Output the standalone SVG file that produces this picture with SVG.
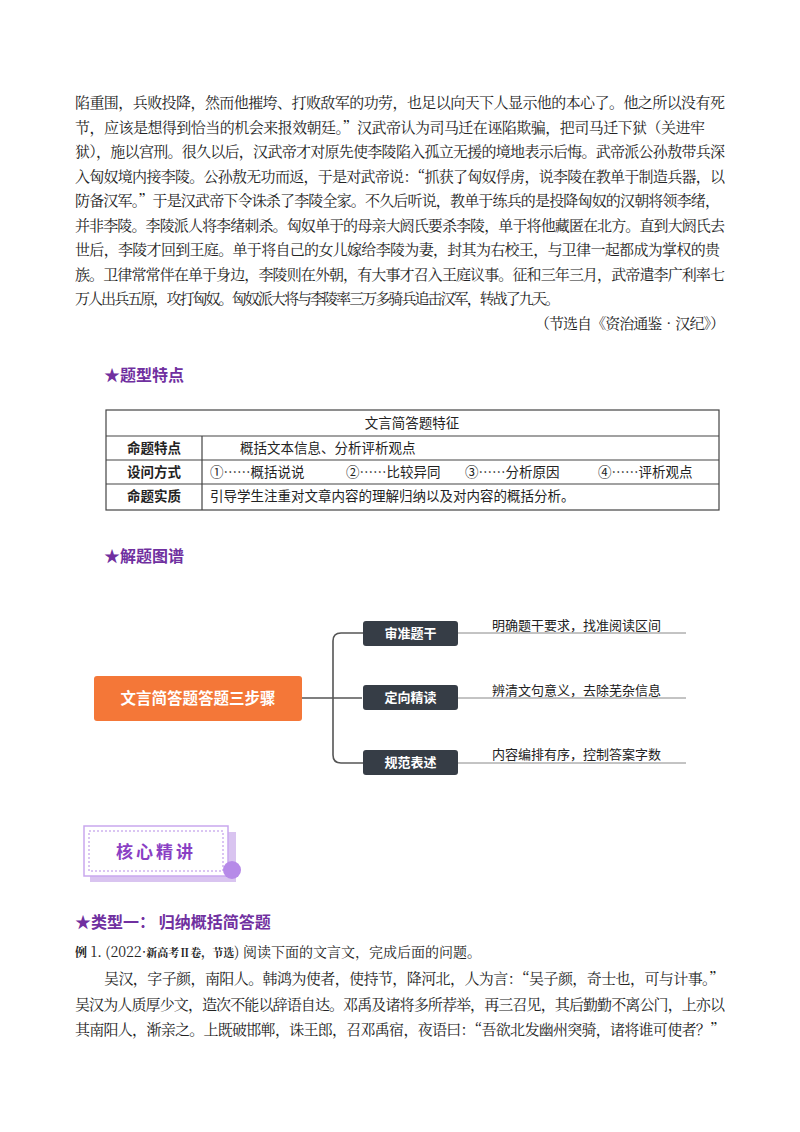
<svg xmlns="http://www.w3.org/2000/svg" width="800" height="1132" viewBox="0 0 800 1132">
<style>
.p{font-family:"Noto Serif CJK SC","Noto Sans CJK SC",serif;font-size:15px;fill:#222}
.s{font-family:"Noto Sans CJK SC",sans-serif;fill:#222}
.h{font-family:"Noto Sans CJK SC",sans-serif;font-size:16px;font-weight:bold;fill:#7030a0}
.cell{font-family:"Noto Sans CJK SC",sans-serif;font-size:13.5px;fill:#222}
.b{font-weight:bold}
.dk{fill:#363d46}
.wt{font-family:"Noto Sans CJK SC",sans-serif;font-size:13px;font-weight:bold;fill:#fff}
.ln{stroke:#555;stroke-width:1.6;fill:none}
.ul{stroke:#888;stroke-width:1;fill:none}
</style>
<rect width="800" height="1132" fill="#fff"/>
<g id="passage">
<text class="p" x="75" y="108" textLength="650" lengthAdjust="spacing">陷重围，兵败投降，然而他摧垮、打败敌军的功劳，也足以向天下人显示他的本心了。他之所以没有死</text>
<text class="p" x="75" y="133" textLength="630" lengthAdjust="spacing">节，应该是想得到恰当的机会来报效朝廷。”汉武帝认为司马迁在诬陷欺骗，把司马迁下狱（关进牢</text>
<text class="p" x="75" y="157" textLength="650" lengthAdjust="spacing">狱），施以宫刑。很久以后，汉武帝才对原先使李陵陷入孤立无援的境地表示后悔。武帝派公孙敖带兵深</text>
<text class="p" x="75" y="182" textLength="650" lengthAdjust="spacing">入匈奴境内接李陵。公孙敖无功而返，于是对武帝说：“抓获了匈奴俘虏，说李陵在教单于制造兵器，以</text>
<text class="p" x="75" y="206" textLength="645" lengthAdjust="spacing">防备汉军。”于是汉武帝下令诛杀了李陵全家。不久后听说，教单于练兵的是投降匈奴的汉朝将领李绪，</text>
<text class="p" x="75" y="231" textLength="650" lengthAdjust="spacing">并非李陵。李陵派人将李绪刺杀。匈奴单于的母亲大阏氏要杀李陵，单于将他藏匿在北方。直到大阏氏去</text>
<text class="p" x="75" y="255" textLength="645" lengthAdjust="spacing">世后，李陵才回到王庭。单于将自己的女儿嫁给李陵为妻，封其为右校王，与卫律一起都成为掌权的贵</text>
<text class="p" x="75" y="280" textLength="650" lengthAdjust="spacing">族。卫律常常伴在单于身边，李陵则在外朝，有大事才召入王庭议事。征和三年三月，武帝遣李广利率七</text>
<text class="p" x="75" y="304" textLength="485" lengthAdjust="spacing">万人出兵五原，攻打匈奴。匈奴派大将与李陵率三万多骑兵追击汉军，转战了九天。</text>
<text class="p" x="535" y="329" textLength="190" lengthAdjust="spacing">（节选自《资治通鉴•汉纪》）</text>
</g>
<text class="h" x="104" y="381">★题型特点</text>
<g id="table">
<rect x="106" y="410" width="613" height="100" fill="none" stroke="#444" stroke-width="1.2"/>
<path d="M106 436H719M106 460H719M106 484H719M202 436V510" stroke="#444" stroke-width="1.2" fill="none"/>
<text class="cell" x="412" y="428" text-anchor="middle">文言简答题特征</text>
<text class="cell b" x="154" y="453" text-anchor="middle">命题特点</text>
<text class="cell" x="240" y="453">概括文本信息、分析评析观点</text>
<text class="cell b" x="154" y="477" text-anchor="middle">设问方式</text>
<text class="cell" x="210" y="477">①……概括说说</text>
<text class="cell" x="346" y="477">②……比较异同</text>
<text class="cell" x="465" y="477">③……分析原因</text>
<text class="cell" x="598" y="477">④……评析观点</text>
<text class="cell b" x="154" y="501" text-anchor="middle">命题实质</text>
<text class="cell" x="210" y="501">引导学生注重对文章内容的理解归纳以及对内容的概括分析。</text>
</g>
<text class="h" x="104" y="562">★解题图谱</text>
<g id="connectors">
<path class="ln" d="M302 698H362"/>
<path class="ln" d="M363 633H341Q333 633 333 641V755Q333 763 341 763H363"/>
<path class="ul" d="M458 633H686M458 698H686M458 763H686"/>
</g>
<g id="root"><rect x="94" y="676" width="208" height="45" rx="3" fill="#f47738"/>
<text x="198" y="704" text-anchor="middle" font-family="Noto Sans CJK SC,sans-serif" font-size="15.5" font-weight="bold" fill="#fff">文言简答题答题三步骤</text></g>
<g id="step1"><rect class="dk" x="363" y="621" width="95" height="25" rx="3"/><text class="wt" x="410.5" y="638" text-anchor="middle">审准题干</text>
<text class="s" x="492" y="630" font-size="13" fill="#444">明确题干要求，找准阅读区间</text></g>
<g id="step2"><rect class="dk" x="363" y="685" width="95" height="25" rx="3"/><text class="wt" x="410.5" y="702" text-anchor="middle">定向精读</text>
<text class="s" x="492" y="695" font-size="13" fill="#444">辨清文句意义，去除芜杂信息</text></g>
<g id="step3"><rect class="dk" x="363" y="750" width="95" height="25" rx="3"/><text class="wt" x="410.5" y="767" text-anchor="middle">规范表述</text>
<text class="s" x="492" y="759" font-size="13" fill="#444">内容编排有序，控制答案字数</text></g>
<g id="badge">
<rect x="90" y="832" width="146" height="50" fill="#d9c4f0"/>
<rect x="84" y="826" width="144" height="50" fill="#fff" stroke="#c9a8ee" stroke-width="1.5"/>
<rect x="89" y="831" width="134" height="40" fill="none" stroke="#b58be6" stroke-width="1" stroke-dasharray="2,2"/>
<circle cx="232" cy="870" r="9" fill="#b68ae8"/>
<text x="156" y="858" text-anchor="middle" font-family="Noto Sans CJK SC,sans-serif" font-size="17" font-weight="bold" fill="#8a3fc4" letter-spacing="3">核心精讲</text>
</g>
<text class="h" x="75" y="928">★类型一： 归纳概括简答题</text>
<text x="75" y="957" font-family="Noto Serif CJK SC,Noto Sans CJK SC,serif" font-size="14" fill="#222"><tspan font-weight="bold" font-size="12">例</tspan> 1. (2022·<tspan font-weight="bold" font-size="11">新高考Ⅱ卷，节选</tspan>) 阅读下面的文言文，完成后面的问题。</text>
<text class="p" x="104" y="984" textLength="620" lengthAdjust="spacing">吴汉，字子颜，南阳人。韩鸿为使者，使持节，降河北，人为言：“吴子颜，奇士也，可与计事。”</text>
<text class="p" x="75" y="1010" textLength="650" lengthAdjust="spacing">吴汉为人质厚少文，造次不能以辞语自达。邓禹及诸将多所荐举，再三召见，其后勤勤不离公门，上亦以</text>
<text class="p" x="75" y="1035" textLength="650" lengthAdjust="spacing">其南阳人，渐亲之。上既破邯郸，诛王郎，召邓禹宿，夜语曰：“吾欲北发幽州突骑，诸将谁可使者？”</text>
</svg>
